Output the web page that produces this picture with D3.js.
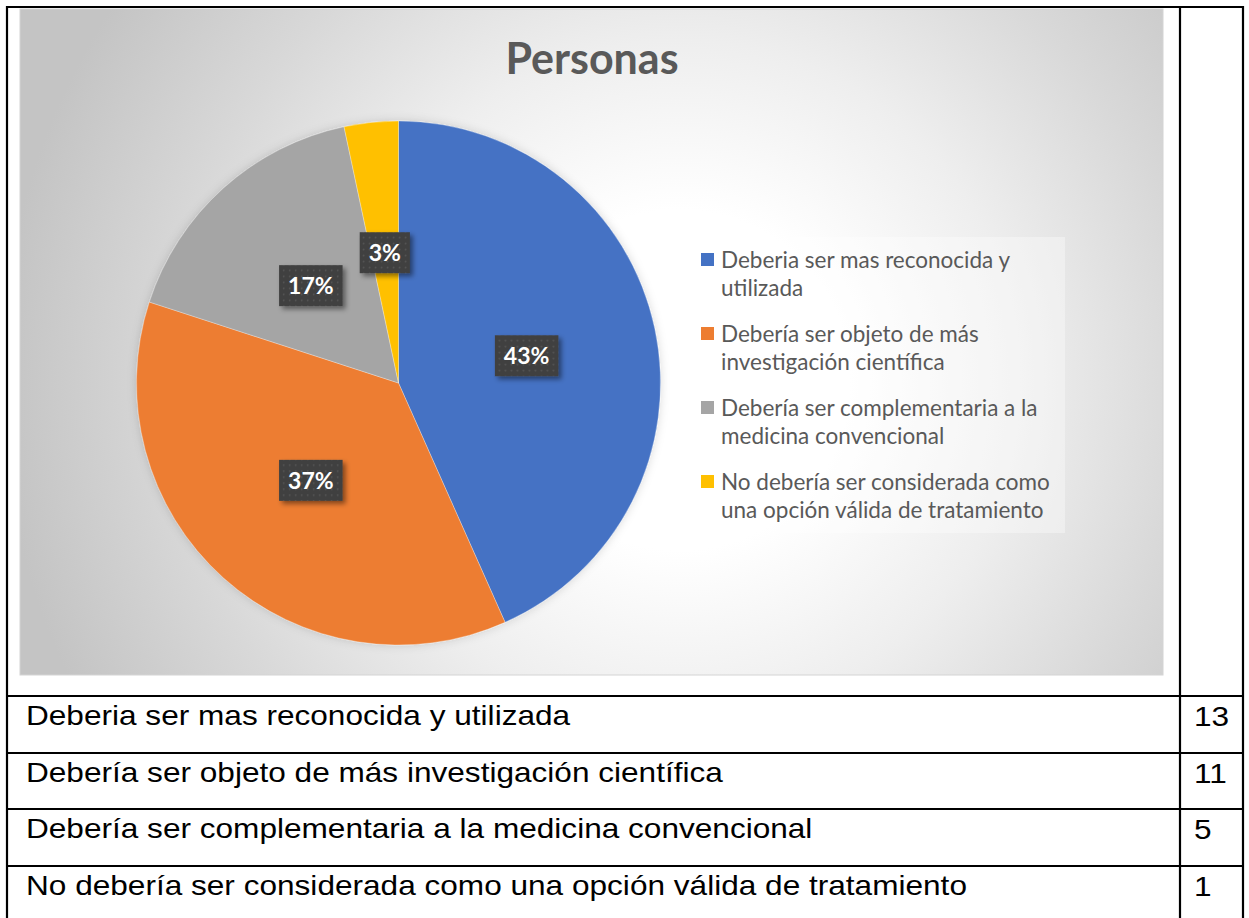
<!DOCTYPE html>
<html>
<head>
<meta charset="utf-8">
<script src="https://cdn.jsdelivr.net/npm/d3@7"></script>
<style>
  html, body { margin: 0; padding: 0; background: #ffffff; }
  svg { display: block; }
</style>
</head>
<body>
<svg id="chart" width="1249" height="918"></svg>
<script>
// ---- Data ----
const chartTitle = "Personas";
const categories = [
  "Deberia ser mas reconocida y utilizada",
  "Debería ser objeto de más investigación científica",
  "Debería ser complementaria a la medicina convencional",
  "No debería ser considerada como una opción válida de tratamiento"
];
const values = [13, 11, 5, 1];
const colors = ["#4472C4", "#ED7D31", "#A5A5A5", "#FFC000"];

// ---- Setup ----
const svg = d3.select("#chart");
const defs = svg.append("defs");

const bg = defs.append("radialGradient")
  .attr("id", "bgGrad").attr("gradientUnits", "userSpaceOnUse")
  .attr("cx", 680).attr("cy", 380).attr("r", 680);
[[0, "#ffffff"], [0.25, "#ffffff"], [0.5, "#eeeeee"], [0.75, "#d8d8d8"], [1, "#c4c4c4"]]
  .forEach(([o, c]) => bg.append("stop").attr("offset", o).attr("stop-color", c));

const pat = defs.append("pattern").attr("id", "dots").attr("patternUnits", "userSpaceOnUse")
  .attr("width", 6).attr("height", 6);
pat.append("rect").attr("width", 6).attr("height", 6).attr("fill", "#404040");
pat.append("rect").attr("x", 2).attr("y", 2).attr("width", 1.5).attr("height", 1.5).attr("fill", "#585858");

const sh = defs.append("filter").attr("id", "shadow")
  .attr("x", "-30%").attr("y", "-30%").attr("width", "170%").attr("height", "170%");
sh.append("feDropShadow").attr("dx", 3).attr("dy", 3).attr("stdDeviation", 2.5)
  .attr("flood-color", "#000").attr("flood-opacity", 0.45);

const pieSh = defs.append("filter").attr("id", "pieShadow")
  .attr("x", "-20%").attr("y", "-20%").attr("width", "140%").attr("height", "140%");
pieSh.append("feDropShadow").attr("dx", 0).attr("dy", 0).attr("stdDeviation", 5)
  .attr("flood-color", "#000").attr("flood-opacity", 0.15);

// ---- Table frame ----
const frame = { left: 7, top: 7, right: 1243, divider: 1180 };
const rowLines = [696, 753, 809, 866];

// chart area background
svg.append("rect")
  .attr("x", 20).attr("y", 9).attr("width", 1143).attr("height", 666)
  .attr("fill", "url(#bgGrad)").attr("stroke", "#d4d4d4").attr("stroke-width", 1);

// ---- Title ----
svg.append("text")
  .attr("x", 592).attr("y", 74).attr("text-anchor", "middle")
  .attr("font-family", "Lato, 'Open Sans', sans-serif").attr("font-weight", 700)
  .attr("font-size", 43).attr("fill", "#595959")
  .text(chartTitle);

// ---- Pie ----
const cx = 398.5, cy = 383, radius = 262;
const total = d3.sum(values);
const pie = d3.pie().sort(null).value(d => d);
const arcs = pie(values);
const arc = d3.arc().innerRadius(0).outerRadius(radius);
const pctFmt = d3.format(".0%");

const g = svg.append("g").attr("transform", `translate(${cx},${cy})`);
g.append("g").attr("filter", "url(#pieShadow)")
  .selectAll("path").data(arcs).join("path")
  .attr("d", arc)
  .attr("fill", (d, i) => colors[i])
  .attr("stroke", "#ffffff").attr("stroke-opacity", 0.5).attr("stroke-width", 0.6);

// labels
const lbl = g.selectAll("g.lbl").data(arcs).join("g").attr("class", "lbl")
  .attr("transform", d => `translate(${arc.centroid(d)})`);
lbl.each(function(d) {
  const sel = d3.select(this);
  const t = sel.append("text")
    .attr("text-anchor", "middle").attr("dy", "0.36em")
    .attr("font-family", "Lato, 'Open Sans', sans-serif").attr("font-weight", 700)
    .attr("font-size", 23).attr("fill", "#ffffff")
    .text(pctFmt(d.value / total));
  const w = t.node().getComputedTextLength();
  const bw = w + 18, bh = 41;
  sel.insert("rect", "text")
    .attr("x", -bw / 2).attr("y", -bh / 2).attr("width", bw).attr("height", bh)
    .attr("fill", "url(#dots)").attr("filter", "url(#shadow)");
});

// ---- Legend ----
const legend = svg.append("g").attr("transform", "translate(682,237)");
legend.append("rect").attr("width", 383).attr("height", 296)
  .attr("fill", "#ffffff").attr("fill-opacity", 0.35);
const legendFont = 22.5, lineH = 28.5, itemH = 74;
categories.forEach((cat, i) => {
  const it = legend.append("g").attr("transform", `translate(0,${23 + i * itemH})`);
  it.append("rect").attr("x", 19).attr("y", -7).attr("width", 13).attr("height", 13)
    .attr("fill", colors[i]);
  const text = it.append("text")
    .attr("font-family", "Lato, 'Open Sans', sans-serif")
    .attr("font-size", legendFont).attr("fill", "#595959");
  const words = cat.split(" ");
  let line = [], lineNo = 0;
  let tspan = text.append("tspan").attr("x", 39).attr("y", 0).attr("dy", "0.35em");
  words.forEach(wd => {
    line.push(wd);
    tspan.text(line.join(" "));
    if (tspan.node().getComputedTextLength() > 340 && line.length > 1) {
      line.pop();
      tspan.text(line.join(" "));
      line = [wd];
      lineNo++;
      tspan = text.append("tspan").attr("x", 39).attr("y", lineNo * lineH).attr("dy", "0.35em").text(wd);
    }
  });
});

// ---- Table rows ----
const sx = 1.17;
categories.forEach((cat, i) => {
  const top = rowLines[i];
  svg.append("text")
    .attr("transform", `translate(26,${top + 29}) scale(${sx},1)`)
    .attr("font-family", "'Liberation Sans', Arial, sans-serif")
    .attr("font-size", 27).attr("fill", "#000")
    .text(cat);
  svg.append("text")
    .attr("transform", `translate(1194,${top + 30}) scale(${sx},1)`)
    .attr("font-family", "'Liberation Sans', Arial, sans-serif")
    .attr("font-size", 27).attr("fill", "#000")
    .text(values[i]);
});

// grid lines
const lineStyle = s => s.attr("stroke", "#000").attr("stroke-width", 2.2);
svg.append("line").attr("x1", frame.left).attr("x2", frame.right).attr("y1", frame.top).attr("y2", frame.top).call(lineStyle);
svg.append("line").attr("x1", frame.left).attr("x2", frame.left).attr("y1", frame.top - 1).attr("y2", 918).call(lineStyle);
svg.append("line").attr("x1", frame.right).attr("x2", frame.right).attr("y1", frame.top - 1).attr("y2", 918).call(lineStyle);
svg.append("line").attr("x1", frame.divider).attr("x2", frame.divider).attr("y1", frame.top).attr("y2", 918).call(lineStyle);
rowLines.forEach(y => {
  svg.append("line").attr("x1", frame.left).attr("x2", frame.right).attr("y1", y).attr("y2", y).call(lineStyle);
});
</script>
</body>
</html>
